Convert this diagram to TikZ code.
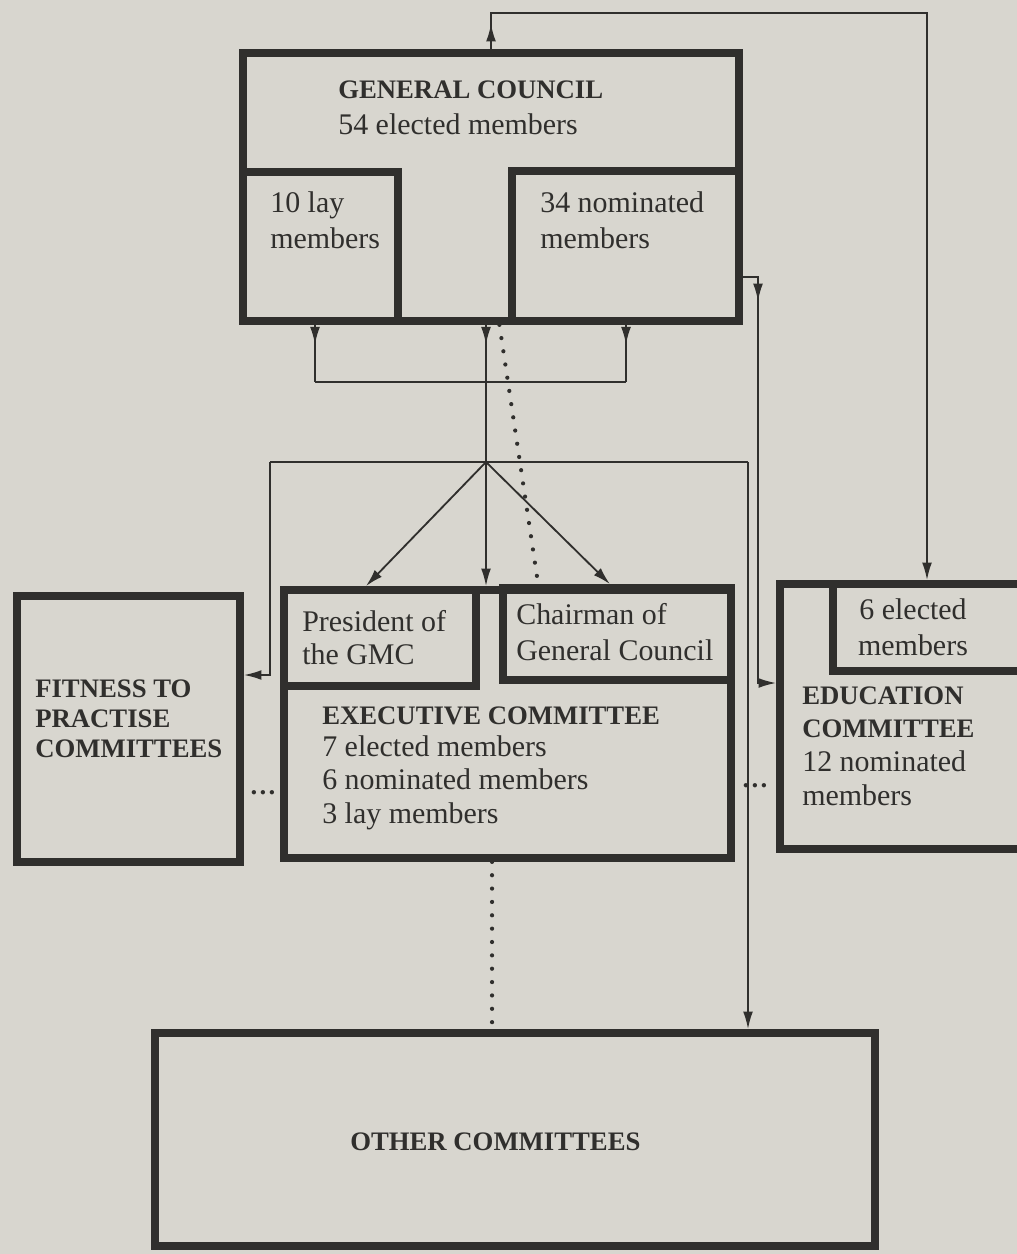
\documentclass[tikz,border=0pt]{standalone}
\usepackage{fontspec}
\setmainfont{Liberation Serif}
\usetikzlibrary{arrows.meta}
\usetikzlibrary{decorations.markings}
\usetikzlibrary{fit}

\definecolor{paper}{RGB}{216,214,207}
\definecolor{ink}{RGB}{48,47,45}
\newcommand\headfont[1][22]{\fontsize{19}{#1}\selectfont\bfseries}
\newcommand\labfont[1][24]{\fontsize{21.3}{#1}\selectfont}

\tikzset{
  box/.style={draw=ink, line width=5.5pt, inner sep=0pt},
  conn/.style={draw=ink, line width=1.3pt},
  endtip/.style={-{Latex[length=12.5pt,width=7pt]}},
  midtip/.style={postaction=decorate, decoration={markings,
      mark=at position #1 with {\arrow{Latex[length=12.5pt,width=7pt]}}}},
  dotline/.style={draw=ink, line width=3pt, line cap=round, dash pattern=on 0pt off 9.5pt},
  head/.style={font=\headfont, text=ink, anchor=base west, inner sep=0pt, align=left},
  lab/.style={font=\labfont, text=ink, anchor=base west, inner sep=0pt, align=left},
}

\begin{document}
\begin{tikzpicture}[x=0.25mm, y=-0.25mm]
\useasboundingbox[fill=paper] (0,0) rectangle (1017,1254);

% boxes
\node[box, fit={(243,53) (739,321)}] (gc) {};
\node[box, fit={(243,172) (398,321)}] (lay) {};
\node[box, fit={(512,171) (739,321)}] (nom) {};
\node[box, fit={(284,590) (731,858)}] (exec) {};
\node[box, fit={(284,590) (476,686)}] (pres) {};
\node[box, fit={(503,588) (731,680)}] (chair) {};
\node[box, fit={(17,596) (240,862)}] (ftp) {};
\node[box, fit={(780,584) (1045,849)}] (edu) {};
\node[box, fit={(833,584) (1045,671)}] (six) {};
\node[box, fit={(155,1033) (875,1246)}] (other) {};

% texts (multi-line nodes sit on their last baseline)
\node[head] (gcname) at (338,99) {GENERAL COUNCIL};
\node[lab] (gcnum) at (338,135) {54 elected members};
\node[lab, font={\labfont[25]}] (laytxt) at (270,248) {10 lay\\members};
\node[lab, font={\labfont[25]}] (nomtxt) at (540,248) {34 nominated\\members};
\node[lab, font={\labfont[23]}] (prestxt) at (302,664) {President of\\the GMC};
\node[lab, font={\labfont[25]}] (chairtxt) at (516,660) {Chairman of\\General Council};
\node[head] (exectxt) at (322,724) {EXECUTIVE COMMITTEE};
\node[lab, font={\labfont[23.5]}] (execnum) at (322,823) {7 elected members\\6 nominated members\\3 lay members};
\node[head, font={\headfont[21.3]}] (ftptxt) at (35,757) {FITNESS TO\\PRACTISE\\COMMITTEES};
\node[head, font={\headfont[22.8]}] (edutxt) at (802,737) {EDUCATION\\COMMITTEE};
\node[lab, font={\labfont[23.5]}] (edunum) at (802,805) {12 nominated\\members};
\node[lab, font={\labfont[25]}, anchor=base, align=center] (sixtxt) at (913,655) {6 elected\\members};
\node[head] (othertxt) at (350,1150) {OTHER COMMITTEES};
\node[head, anchor=base] (dotsL) at (263,794) {\ldots};
\node[head, anchor=base] (dotsR) at (755,787) {\ldots};

% connectors
\coordinate (topL) at (491,13);
\coordinate (topR) at (927,13);
\draw[conn, midtip=18pt, endtip] (gc.north) -- (topL) -- (topR) -- (topR |- edu.north);

\coordinate (nomout) at (758,277);
\coordinate (eduin) at (758,683);
\draw[conn, midtip=28pt, endtip] (nomout -| nom.east) -- (nomout) -- (eduin) -- (eduin -| edu.west);

\coordinate (barL) at (315,382);
\coordinate (barR) at (626,382);
\coordinate (hub) at (486,462);
\draw[conn, midtip=14pt] (barL |- lay.south) -- (barL);
\draw[conn, midtip=14pt] (barR |- nom.south) -- (barR);
\draw[conn] (barL) -- (barR);
\draw[conn, midtip=14pt, endtip] (hub |- gc.south) -- (hub) -- (hub |- exec.north);

\coordinate (hubL) at (270,462);
\coordinate (hubR) at (748,462);
\coordinate (ftpin) at (270,675);
\draw[conn] (hubL) -- (hubR);
\draw[conn, endtip] (hubL) -- (ftpin) -- (ftpin -| ftp.east);
\draw[conn, endtip] (hubR) -- (hubR |- other.north);
\draw[conn, endtip] (hub) -- ([xshift=-10pt]pres.north);
\draw[conn, endtip] (hub) -- ([xshift=-5pt]chair.north);

% dotted links
\draw[dotline] ([xshift=6pt]gc.south) -- ([xshift=22pt]exec.north);
\coordinate (dotlow) at ([xshift=-11pt]exec.south);
\draw[dotline] (dotlow) -- (dotlow |- other.north);
\end{tikzpicture}
\end{document}
